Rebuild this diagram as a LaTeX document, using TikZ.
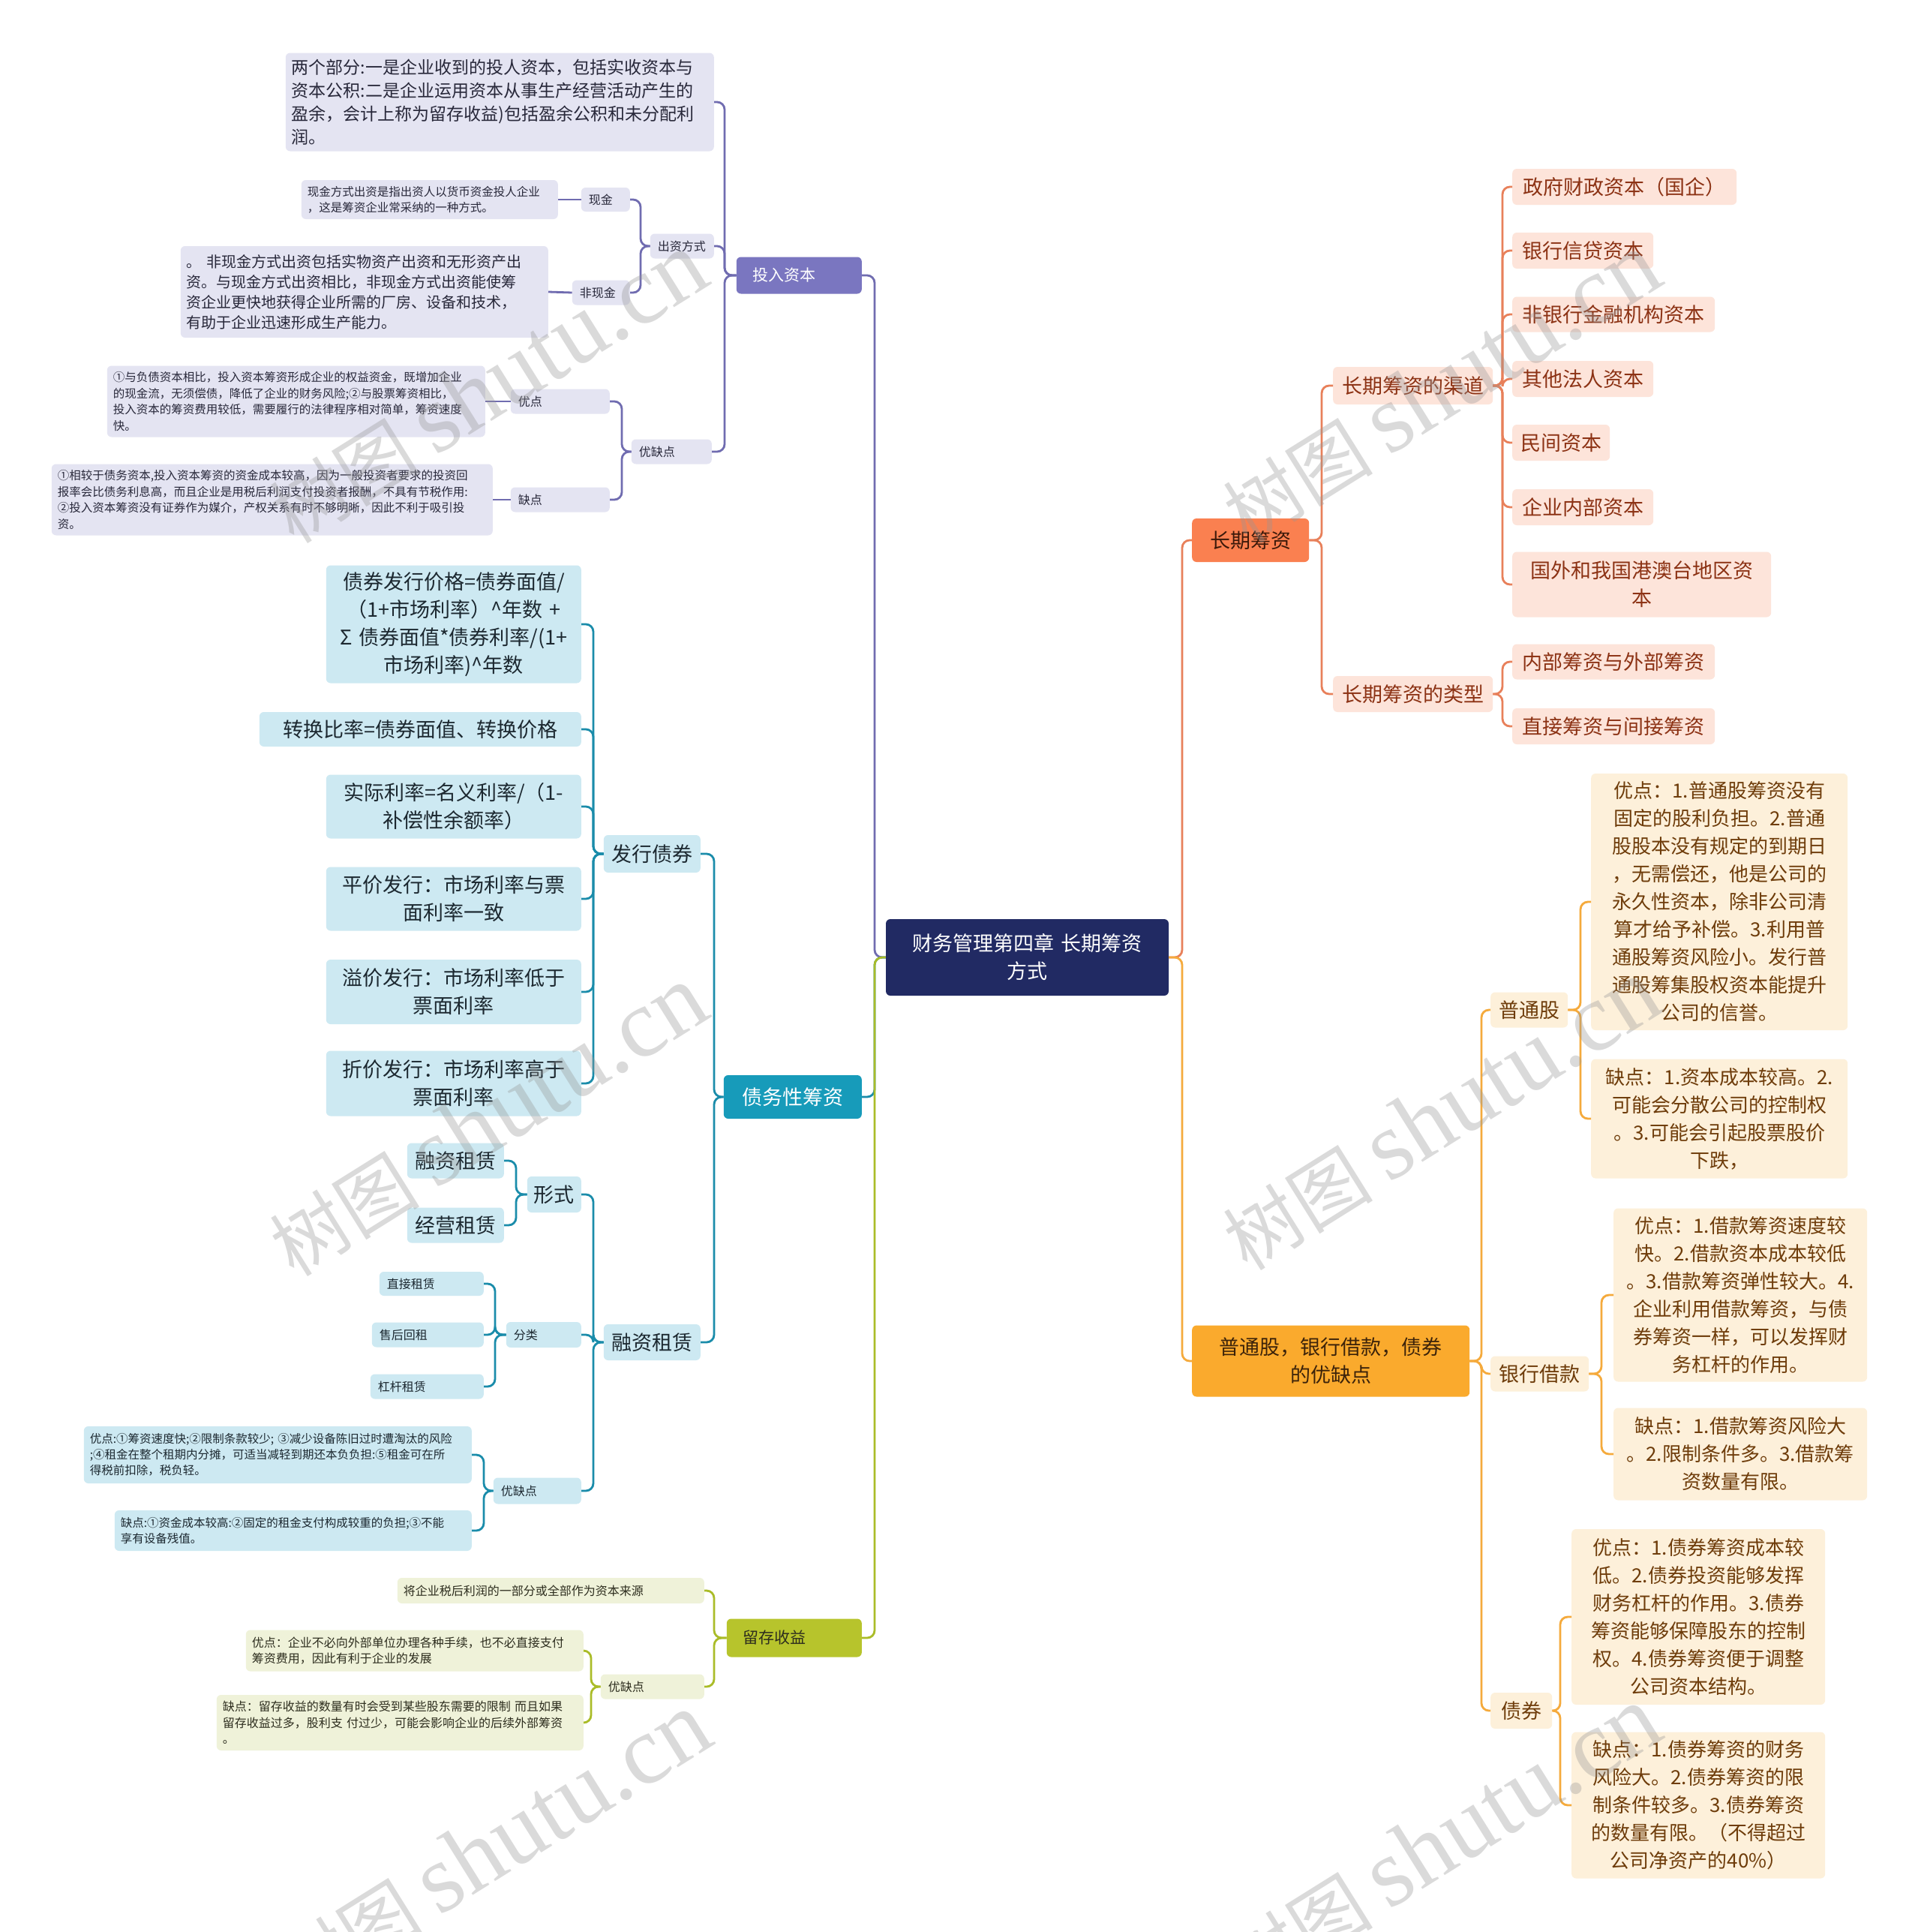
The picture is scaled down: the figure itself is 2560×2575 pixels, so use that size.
\documentclass[tikz,border=0pt]{standalone}
\usepackage{fontspec}
\setmainfont{Noto Sans CJK SC}
\newfontfamily\wmlatin{Liberation Serif}
\usetikzlibrary{positioning}

\definecolor{c_root}{RGB}{33,42,99}
\definecolor{c_tr}{RGB}{122,118,192}
\definecolor{c_tr_lt}{RGB}{228,228,242}
\definecolor{c_tr_ln}{RGB}{112,108,176}
\definecolor{c_tr_tx}{RGB}{40,40,58}
\definecolor{c_db}{RGB}{23,155,186}
\definecolor{c_db_lt}{RGB}{205,233,242}
\definecolor{c_db_ln}{RGB}{26,140,170}
\definecolor{c_db_tx}{RGB}{28,40,48}
\definecolor{c_re}{RGB}{183,196,44}
\definecolor{c_re_lt}{RGB}{239,242,217}
\definecolor{c_re_ln}{RGB}{170,188,40}
\definecolor{c_re_tx}{RGB}{45,45,30}
\definecolor{c_lt}{RGB}{250,128,80}
\definecolor{c_lt_lt}{RGB}{253,228,218}
\definecolor{c_lt_ln}{RGB}{232,128,90}
\definecolor{c_lt_tx}{RGB}{60,25,10}
\definecolor{c_lt_tx2}{RGB}{140,50,20}
\definecolor{c_pr}{RGB}{250,170,45}
\definecolor{c_pr_lt}{RGB}{253,240,218}
\definecolor{c_pr_ln}{RGB}{245,170,60}
\definecolor{c_pr_tx}{RGB}{60,35,10}
\definecolor{c_pr_tx2}{RGB}{110,60,10}
\definecolor{c_wm}{RGB}{150,150,150}

\begin{document}
\begin{tikzpicture}[
x=1pt, y=-1pt,
every node/.style={rounded corners=6pt, inner ysep=0pt},
root/.style={fill=c_root, text=white, align=center, inner xsep=8pt, font=\fontsize{27}{37}\selectfont},
tr_main/.style={fill=c_tr, text=white, align=left, inner xsep=22pt, font=\fontsize{21}{27}\selectfont},
tr_tag/.style={fill=c_tr_lt, text=c_tr_tx, align=left, inner xsep=10pt, font=\fontsize{16}{21}\selectfont},
tr_txt/.style={fill=c_tr_lt, text=c_tr_tx, align=left, inner xsep=8pt},
db_main/.style={fill=c_db, text=white, align=center, inner xsep=14pt, font=\fontsize{27}{37}\selectfont},
db_box/.style={fill=c_db_lt, text=c_db_tx, align=center, inner xsep=8pt, font=\fontsize{27}{37}\selectfont},
db_tag/.style={fill=c_db_lt, text=c_db_tx, align=left, inner xsep=10pt, font=\fontsize{16}{21}\selectfont},
db_txt/.style={fill=c_db_lt, text=c_db_tx, align=left, inner xsep=8pt, font=\fontsize{15.5}{21}\selectfont},
re_main/.style={fill=c_re, text=c_re_tx, align=left, inner xsep=22pt, font=\fontsize{21}{27}\selectfont},
re_tag/.style={fill=c_re_lt, text=c_re_tx, align=left, inner xsep=10pt, font=\fontsize{16}{21}\selectfont},
re_txt/.style={fill=c_re_lt, text=c_re_tx, align=left, inner xsep=8pt, font=\fontsize{16}{21.5}\selectfont},
lt_main/.style={fill=c_lt, text=c_lt_tx, align=center, inner xsep=8pt, font=\fontsize{27}{37}\selectfont},
lt_box/.style={fill=c_lt_lt, text=c_lt_tx2, align=center, inner xsep=8pt, font=\fontsize{27}{37}\selectfont},
pr_main/.style={fill=c_pr, text=c_pr_tx, align=center, inner xsep=8pt, font=\fontsize{27}{37}\selectfont},
pr_box/.style={fill=c_pr_lt, text=c_pr_tx2, align=center, inner xsep=8pt, font=\fontsize{27}{37}\selectfont},
pr_txt/.style={fill=c_pr_lt, text=c_pr_tx2, align=center, inner xsep=8pt, font=\fontsize{26}{37}\selectfont},
ln_tr/.style={draw=c_tr_ln, line width=2.8pt, rounded corners=10pt},
ln_db/.style={draw=c_db_ln, line width=2.8pt, rounded corners=10pt},
ln_re/.style={draw=c_re_ln, line width=2.8pt, rounded corners=10pt},
ln_lt/.style={draw=c_lt_ln, line width=2.8pt, rounded corners=10pt},
ln_pr/.style={draw=c_pr_ln, line width=2.8pt, rounded corners=10pt},
wm/.style={text=c_wm, opacity=0.35, rotate=32, inner sep=0pt}
]

\fill[white] (0,0) rectangle (2560,2575);
\useasboundingbox (0,0) rectangle (2560,2575);

% centre
\node[root, text width=361pt, minimum height=102pt] (root) at (1369.5,1276) {财务管理第四章 长期筹资\\方式};

% bus positions
\coordinate (bus_root_l) at (1166,0);
\coordinate (bus_root_r) at (1576,0);
\coordinate (bus_eq) at (966,0);
\coordinate (bus_eq_way) at (854,0);
\coordinate (bus_eq_pc) at (829,0);
\coordinate (bus_db) at (952,0);
\coordinate (bus_bond) at (791,0);
\coordinate (bus_form) at (688,0);
\coordinate (bus_kind) at (660,0);
\coordinate (bus_lpc) at (645,0);
\coordinate (bus_kept) at (952,0);
\coordinate (bus_kept_pc) at (788,0);
\coordinate (bus_lt) at (1762,0);
\coordinate (bus_ch) at (2003,0);
\coordinate (bus_pr) at (1975,0);
\coordinate (bus_stock) at (2107,0);
\coordinate (bus_loan) at (2135,0);
\coordinate (bus_bonds) at (2080,0);

% 投入资本
\node[tr_main, anchor=east, text width=123pt, minimum height=49pt] (equity) at (1149,367) {投入资本};
\node[tr_txt, anchor=east, text width=555pt, minimum height=131pt, font=\fontsize{23}{31}\selectfont] (eq_def) at (952,136) {两个部分:一是企业收到的投人资本，包括实收资本与\\资本公积:二是企业运用资本从事生产经营活动产生的\\盈余，会计上称为留存收益)包括盈余公积和未分配利\\润。};
\node[tr_tag, anchor=east, text width=65pt, minimum height=33pt] (eq_way) at (952,328) {出资方式};
\node[tr_tag, anchor=east, text width=45pt, minimum height=32pt] (eq_cash) at (840,266) {现金};
\node[tr_txt, anchor=east, text width=326pt, minimum height=52pt, font=\fontsize{15.5}{21}\selectfont] (eq_cash_txt) at (744,266) {现金方式出资是指出资人以货币资金投人企业\\，这是筹资企业常采纳的一种方式。};
\node[tr_tag, anchor=east, text width=57pt, minimum height=33pt] (eq_noncash) at (840,390) {非现金};
\node[tr_txt, anchor=east, text width=474pt, minimum height=122pt, font=\fontsize{20}{27}\selectfont] (eq_noncash_txt) at (731,389) {。 非现金方式出资包括实物资产出资和无形资产出\\资。与现金方式出资相比，非现金方式出资能使筹\\资企业更快地获得企业所需的厂房、设备和技术，\\有助于企业迅速形成生产能力。};
\node[tr_tag, anchor=east, text width=87pt, minimum height=33pt] (eq_pc) at (949,602) {优缺点};
\node[tr_tag, anchor=east, text width=112pt, minimum height=33pt] (eq_pro) at (813,535) {优点};
\node[tr_txt, anchor=east, text width=488pt, minimum height=95pt, font=\fontsize{15.5}{21.5}\selectfont] (eq_pro_txt) at (647,535) {①与负债资本相比，投入资本筹资形成企业的权益资金，既增加企业\\的现金流，无须偿债，降低了企业的财务风险;②与股票筹资相比，\\投入资本的筹资费用较低，需要履行的法律程序相对简单，筹资速度\\快。};
\node[tr_tag, anchor=east, text width=112pt, minimum height=33pt] (eq_con) at (813,666) {缺点};
\node[tr_txt, anchor=east, text width=572pt, minimum height=95pt, font=\fontsize{15.5}{21.5}\selectfont] (eq_con_txt) at (657,666) {①相较于债务资本,投入资本筹资的资金成本较高，因为一般投资者要求的投资回\\报率会比债务利息高，而且企业是用税后利润支付投资者报酬，不具有节税作用:\\②投入资本筹资没有证券作为媒介，产权关系有时不够明晰，因此不利于吸引投\\资。};

% 债务性筹资
\node[db_main, anchor=east, text width=156pt, minimum height=58pt] (debt) at (1149,1462) {债务性筹资};
\node[db_box, anchor=east, text width=113pt, minimum height=50pt] (bond) at (934,1138) {发行债券};
\node[db_box, anchor=east, text width=324pt, minimum height=157pt] (bond_f1) at (775,832) {债券发行价格=债券面值/\\（1+市场利率）\textasciicircum 年数 +\\Σ 债券面值*债券利率/(1+\\市场利率)\textasciicircum 年数};
\node[db_box, anchor=east, text width=413pt, minimum height=46pt] (bond_f2) at (775,972) {转换比率=债券面值、转换价格};
\node[db_box, anchor=east, text width=324pt, minimum height=85pt] (bond_f3) at (775,1075) {实际利率=名义利率/（1-\\补偿性余额率）};
\node[db_box, anchor=east, text width=324pt, minimum height=85pt] (bond_f4) at (775,1198) {平价发行：市场利率与票\\面利率一致};
\node[db_box, anchor=east, text width=324pt, minimum height=86pt] (bond_f5) at (775,1322) {溢价发行：市场利率低于\\票面利率};
\node[db_box, anchor=east, text width=324pt, minimum height=87pt] (bond_f6) at (775,1444) {折价发行：市场利率高于\\票面利率};
\node[db_box, anchor=east, text width=113pt, minimum height=48pt] (lease) at (934,1789) {融资租赁};
\node[db_box, anchor=east, text width=56pt, minimum height=48pt] (ls_form) at (775,1592) {形式};
\node[db_box, anchor=east, text width=113pt, minimum height=47pt] (ls_fin) at (672,1547) {融资租赁};
\node[db_box, anchor=east, text width=113pt, minimum height=47pt] (ls_op) at (672,1633) {经营租赁};
\node[db_tag, anchor=east, text width=80pt, minimum height=34pt] (ls_kind) at (775,1779) {分类};
\node[db_tag, anchor=east, text width=119pt, minimum height=32pt] (ls_direct) at (645,1711) {直接租赁};
\node[db_tag, anchor=east, text width=129pt, minimum height=33pt] (ls_sale) at (645,1779) {售后回租};
\node[db_tag, anchor=east, text width=131pt, minimum height=33pt] (ls_lev) at (645,1848) {杠杆租赁};
\node[db_tag, anchor=east, text width=97pt, minimum height=35pt] (ls_pc) at (775,1987) {优缺点};
\node[db_txt, anchor=east, text width=501pt, minimum height=76pt] (ls_pro_txt) at (629,1939) {优点:①筹资速度快;②限制条款较少; ③减少设备陈旧过时遭淘汰的风险\\;④租金在整个租期内分摊，可适当减轻到期还本负负担:⑤租金可在所\\得税前扣除，税负轻。};
\node[db_txt, anchor=east, text width=460pt, minimum height=54pt] (ls_con_txt) at (629,2040) {缺点:①资金成本较高:②固定的租金支付构成较重的负担;③不能\\享有设备残值。};

% 留存收益
\node[re_main, anchor=east, text width=136pt, minimum height=51pt] (kept) at (1149,2183) {留存收益};
\node[re_txt, anchor=east, text width=393pt, minimum height=34pt] (kept_def) at (939,2120) {将企业税后利润的一部分或全部作为资本来源};
\node[re_tag, anchor=east, text width=118pt, minimum height=33pt] (kept_pc) at (939,2248) {优缺点};
\node[re_txt, anchor=east, text width=434pt, minimum height=55pt] (kept_pro) at (778,2200) {优点：企业不必向外部单位办理各种手续，也不必直接支付\\筹资费用，因此有利于企业的发展};
\node[re_txt, anchor=east, text width=473pt, minimum height=74pt] (kept_con) at (778,2296) {缺点：留存收益的数量有时会受到某些股东需要的限制 而且如果\\留存收益过多，股利支 付过少，可能会影响企业的后续外部筹资\\。};

% 长期筹资
\node[lt_main, anchor=west, text width=140pt, minimum height=58pt] (longterm) at (1589,720) {长期筹资};
\node[lt_box, anchor=west, text width=197pt, minimum height=50pt] (lt_ch) at (1777,514) {长期筹资的渠道};
\node[lt_box, anchor=west, text width=197pt, minimum height=48pt] (lt_ty) at (1777,925) {长期筹资的类型};
\node[lt_box, anchor=west, text width=283pt, minimum height=48pt] (ch_1) at (2016,249) {政府财政资本（国企）};
\node[lt_box, anchor=west, text width=172pt, minimum height=48pt] (ch_2) at (2016,334) {银行信贷资本};
\node[lt_box, anchor=west, text width=254pt, minimum height=47pt] (ch_3) at (2016,419) {非银行金融机构资本};
\node[lt_box, anchor=west, text width=172pt, minimum height=48pt] (ch_4) at (2016,505) {其他法人资本};
\node[lt_box, anchor=west, text width=114pt, minimum height=48pt] (ch_5) at (2016,590) {民间资本};
\node[lt_box, anchor=west, text width=172pt, minimum height=48pt] (ch_6) at (2016,676) {企业内部资本};
\node[lt_box, anchor=west, text width=329pt, minimum height=87pt] (ch_7) at (2016,779) {国外和我国港澳台地区资\\本};
\node[lt_box, anchor=west, text width=254pt, minimum height=47pt] (ty_1) at (2016,882) {内部筹资与外部筹资};
\node[lt_box, anchor=west, text width=254pt, minimum height=48pt] (ty_2) at (2016,968) {直接筹资与间接筹资};

% 普通股，银行借款，债券
\node[pr_main, anchor=west, text width=354pt, minimum height=95pt] (pros) at (1589,1814) {普通股，银行借款，债券\\的优缺点};
\node[pr_box, anchor=west, text width=87pt, minimum height=47pt] (stock) at (1987,1346) {普通股};
\node[pr_box, anchor=west, text width=115pt, minimum height=47pt] (loan) at (1987,1831) {银行借款};
\node[pr_box, anchor=west, text width=66pt, minimum height=48pt] (bonds) at (1987,2280) {债券};
\node[pr_txt, anchor=west, text width=326pt, minimum height=342pt] (st_pro) at (2121,1202) {优点：1.普通股筹资没有\\固定的股利负担。2.普通\\股股本没有规定的到期日\\，无需偿还，他是公司的\\永久性资本，除非公司清\\算才给予补偿。3.利用普\\通股筹资风险小。发行普\\通股筹集股权资本能提升\\公司的信誉。};
\node[pr_txt, anchor=west, text width=326pt, minimum height=159pt] (st_con) at (2121,1491) {缺点：1.资本成本较高。2.\\可能会分散公司的控制权\\。3.可能会引起股票股价\\下跌，};
\node[pr_txt, anchor=west, text width=322pt, minimum height=231pt] (ln_pro) at (2151,1726) {优点：1.借款筹资速度较\\快。2.借款资本成本较低\\。3.借款筹资弹性较大。4.\\企业利用借款筹资，与债\\券筹资一样，可以发挥财\\务杠杆的作用。};
\node[pr_txt, anchor=west, text width=322pt, minimum height=123pt] (ln_con) at (2151,1938) {缺点：1.借款筹资风险大\\。2.限制条件多。3.借款筹\\资数量有限。};
\node[pr_txt, anchor=west, text width=322pt, minimum height=234pt] (bd_pro) at (2095,2155) {优点：1.债券筹资成本较\\低。2.债券投资能够发挥\\财务杠杆的作用。3.债券\\筹资能够保障股东的控制\\权。4.债券筹资便于调整\\公司资本结构。};
\node[pr_txt, anchor=west, text width=322pt, minimum height=195pt] (bd_con) at (2095,2406) {缺点：1.债券筹资的财务\\风险大。2.债券筹资的限\\制条件较多。3.债券筹资\\的数量有限。（不得超过\\公司净资产的40\%）};

% connectors, left
\draw[ln_tr] (root.west) -- (bus_root_l |- root.west) |- (equity.east);
\draw[ln_db] (root.west) -- (bus_root_l |- root.west) |- (debt.east);
\draw[ln_re] (root.west) -- (bus_root_l |- root.west) |- (kept.east);

\draw[ln_tr] (equity.west) -- (bus_eq |- equity.west) |- (eq_def.east);
\draw[ln_tr] (equity.west) -- (bus_eq |- equity.west) |- (eq_way.east);
\draw[ln_tr] (equity.west) -- (bus_eq |- equity.west) |- (eq_pc.east);
\draw[ln_tr] (eq_way.west) -- (bus_eq_way |- eq_way.west) |- (eq_cash.east);
\draw[ln_tr] (eq_way.west) -- (bus_eq_way |- eq_way.west) |- (eq_noncash.east);
\draw[ln_tr] (eq_cash.west) -- (eq_cash_txt.east);
\draw[ln_tr] (eq_noncash.west) -- (eq_noncash_txt.east);
\draw[ln_tr] (eq_pc.west) -- (bus_eq_pc |- eq_pc.west) |- (eq_pro.east);
\draw[ln_tr] (eq_pc.west) -- (bus_eq_pc |- eq_pc.west) |- (eq_con.east);
\draw[ln_tr] (eq_pro.west) -- (eq_pro_txt.east);
\draw[ln_tr] (eq_con.west) -- (eq_con_txt.east);

\draw[ln_db] (debt.west) -- (bus_db |- debt.west) |- (bond.east);
\draw[ln_db] (debt.west) -- (bus_db |- debt.west) |- (lease.east);
\foreach \n in {bond_f1, bond_f2, bond_f3, bond_f4, bond_f5, bond_f6}
  \draw[ln_db] (bond.west) -- (bus_bond |- bond.west) |- (\n.east);
\foreach \n in {ls_form, ls_kind, ls_pc}
  \draw[ln_db] (lease.west) -- (bus_bond |- lease.west) |- (\n.east);
\draw[ln_db] (ls_form.west) -- (bus_form |- ls_form.west) |- (ls_fin.east);
\draw[ln_db] (ls_form.west) -- (bus_form |- ls_form.west) |- (ls_op.east);
\foreach \n in {ls_direct, ls_sale, ls_lev}
  \draw[ln_db] (ls_kind.west) -- (bus_kind |- ls_kind.west) |- (\n.east);
\draw[ln_db] (ls_pc.west) -- (bus_lpc |- ls_pc.west) |- (ls_pro_txt.east);
\draw[ln_db] (ls_pc.west) -- (bus_lpc |- ls_pc.west) |- (ls_con_txt.east);

\draw[ln_re] (kept.west) -- (bus_kept |- kept.west) |- (kept_def.east);
\draw[ln_re] (kept.west) -- (bus_kept |- kept.west) |- (kept_pc.east);
\draw[ln_re] (kept_pc.west) -- (bus_kept_pc |- kept_pc.west) |- (kept_pro.east);
\draw[ln_re] (kept_pc.west) -- (bus_kept_pc |- kept_pc.west) |- (kept_con.east);

% connectors, right
\draw[ln_lt] (root.east) -- (bus_root_r |- root.east) |- (longterm.west);
\draw[ln_pr] (root.east) -- (bus_root_r |- root.east) |- (pros.west);
\draw[ln_lt] (longterm.east) -- (bus_lt |- longterm.east) |- (lt_ch.west);
\draw[ln_lt] (longterm.east) -- (bus_lt |- longterm.east) |- (lt_ty.west);
\foreach \n in {ch_1, ch_2, ch_3, ch_4, ch_5, ch_6, ch_7}
  \draw[ln_lt] (lt_ch.east) -- (bus_ch |- lt_ch.east) |- (\n.west);
\draw[ln_lt] (lt_ty.east) -- (bus_ch |- lt_ty.east) |- (ty_1.west);
\draw[ln_lt] (lt_ty.east) -- (bus_ch |- lt_ty.east) |- (ty_2.west);

\foreach \n in {stock, loan, bonds}
  \draw[ln_pr] (pros.east) -- (bus_pr |- pros.east) |- (\n.west);
\draw[ln_pr] (stock.east) -- (bus_stock |- stock.east) |- (st_pro.west);
\draw[ln_pr] (stock.east) -- (bus_stock |- stock.east) |- (st_con.west);
\draw[ln_pr] (loan.east) -- (bus_loan |- loan.east) |- (ln_pro.west);
\draw[ln_pr] (loan.east) -- (bus_loan |- loan.east) |- (ln_con.west);
\draw[ln_pr] (bonds.east) -- (bus_bonds |- bonds.east) |- (bd_pro.west);
\draw[ln_pr] (bonds.east) -- (bus_bonds |- bonds.east) |- (bd_con.west);

% watermark
\foreach \wx/\wy [count=\i] in {650/517, 650/1494, 655/2463, 1921/517, 1921/1486, 1921/2455}
  \node[wm] (wm\i) at (\wx,\wy) {\fontsize{100}{100}\selectfont 树图 {\wmlatin\fontsize{130}{130}\selectfont shutu.cn}};

\end{tikzpicture}
\end{document}
